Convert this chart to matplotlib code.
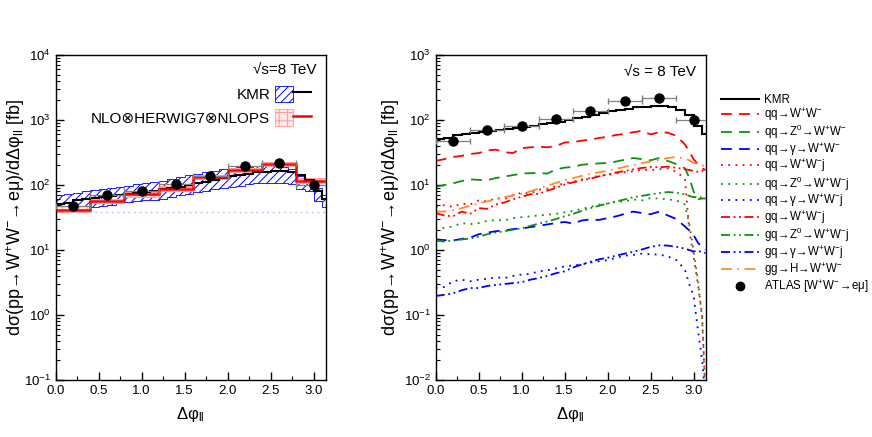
import numpy as np
import matplotlib
matplotlib.use('Agg')
import matplotlib.pyplot as plt
from matplotlib.patches import Patch
from matplotlib.lines import Line2D
from matplotlib.legend_handler import HandlerTuple
from matplotlib.ticker import MultipleLocator, LogLocator

plt.rcParams['font.family'] = ['Liberation Sans', 'DejaVu Sans']
plt.rcParams['mathtext.default'] = 'regular'
plt.rcParams['hatch.linewidth'] = 0.7

# KMR histogram (0.1 wide bins, last bin ends at pi)
kmr_edges = [0.0, 0.1, 0.2, 0.3, 0.4, 0.5, 0.6, 0.7, 0.8, 0.9, 1.0, 1.1, 1.2, 1.3, 1.4, 1.5,
             1.6, 1.7, 1.8, 1.9, 2.0, 2.1, 2.2, 2.3, 2.4, 2.5, 2.6, 2.7, 2.8, 2.9, 3.0, 3.1, np.pi]
kmr = [51, 52, 58, 61, 64, 66, 68, 69, 72, 76, 79, 82, 86, 90, 94, 99,
       106, 113, 120, 128, 136, 143, 150, 156, 161, 165, 166, 160, 145, 118, 82, 62]
kmr_lo = [39, 40, 42, 44, 46, 48, 50, 52, 54, 56, 58, 59, 62, 66, 70, 74,
          78, 82, 86, 90, 94, 98, 102, 106, 108, 109, 108, 102, 86, 80, 56, 46]
kmr_hi = [70, 72, 76, 80, 84, 88, 91, 94, 98, 102, 106, 110, 114, 122, 132, 142,
          150, 158, 166, 174, 181, 187, 192, 196, 198, 196, 190, 175, 140, 120, 90, 70]
band_floor = 38

# NLO x HERWIG7 x NLOPS (0.4 wide bins)
nlo_edges = [0.0, 0.4, 0.8, 1.2, 1.6, 2.0, 2.4, 2.8, np.pi]
nlo = [42, 57, 72, 88, 133, 170, 209, 116]
nlo_lo = [38, 52, 66, 81, 122, 156, 193, 107]
nlo_hi = [47, 62, 78, 96, 145, 184, 226, 126]

# ATLAS data
atlas_x = [0.2, 0.6, 1.0, 1.4, 1.8, 2.2, 2.6, 3.0]
atlas_y = [47, 70, 82, 103, 139, 194, 218, 99]
atlas_yerr = [4, 6, 7, 9, 12, 16, 18, 9]
atlas_xerr = 0.2

# individual contributions
xs = [0.0, 0.1, 0.2, 0.3, 0.4, 0.5, 0.6, 0.7, 0.8, 0.9, 1.0, 1.1, 1.2, 1.3, 1.4, 1.5, 1.6, 1.7,
      1.8, 1.9, 2.0, 2.1, 2.2, 2.3, 2.4, 2.5, 2.6, 2.7, 2.8, 2.9, 2.95, 3.0, 3.05, 3.1, 3.14]
qq_ww = [23.5, 25, 27, 28, 30, 31, 34, 35, 32, 31, 37, 38, 39, 38, 40, 45, 46, 48,
         50, 53, 55, 59, 61, 65, 68, 60, 65, 64, 57, 42, 33, 25, 21, 18, 17]
qq_z_ww = [9.4, 10, 10.6, 11.5, 12.2, 12, 11.9, 12.8, 13.5, 14.2, 15, 15.2, 15.3, 15, 17.4, 18.5, 19, 20.5,
           21, 21.5, 21.8, 23, 24.5, 26, 25, 24, 26, 23.5, 21, 18, 13, 8, 6, 6.2, 6.2]
qq_g_ww = [1.46, 1.42, 1.40, 1.48, 1.55, 1.75, 1.85, 1.95, 2.0, 2.1, 2.15, 2.25, 2.35, 2.48, 2.6, 2.7, 2.55, 2.85,
           2.95, 2.9, 3.1, 3.3, 3.6, 3.9, 3.7, 3.55, 3.9, 3.4, 3.0, 2.3, 2.0, 1.7, 1.3, 1.1, 1.0]
qq_wwj = [4.6, 4.9, 4.6, 5.2, 5.0, 5.8, 5.6, 6.3, 6.1, 7.0, 7.6, 7.4, 8.5, 8.8, 9.6, 10.8, 11.2, 12.2,
          12.8, 13.9, 14.2, 15.0, 15.8, 16.2, 17.3, 16.8, 17.5, 18.0, 16.0, 12.5, 2.0, 0.8, 0.3, 0.1, 0.005]
qq_z_wwj = [2.0, 2.2, 2.3, 2.6, 2.5, 2.6, 2.8, 2.9, 2.85, 3.1, 3.2, 3.3, 3.4, 3.5, 3.6, 3.8, 4.0, 4.3,
            4.6, 5.0, 5.2, 5.5, 5.6, 6.0, 5.8, 6.3, 6.2, 6.0, 5.8, 5.0, 2.5, 1.0, 0.35, 0.09, 0.005]
qq_g_wwj = [0.26, 0.27, 0.33, 0.35, 0.33, 0.35, 0.36, 0.38, 0.37, 0.40, 0.42, 0.43, 0.47, 0.49, 0.52, 0.56, 0.58, 0.6,
            0.64, 0.67, 0.70, 0.76, 0.82, 0.84, 0.88, 0.86, 0.85, 0.80, 0.70, 0.5, 0.3, 0.2, 0.06, 0.02, 0.005]
gq_wwj = [3.7, 3.4, 3.3, 3.9, 3.6, 4.4, 4.3, 5.0, 5.4, 6.0, 6.6, 7.2, 7.3, 8.2, 9.0, 10.2, 11.0, 11.8,
          12.5, 13.6, 14.5, 15.6, 16.4, 17.4, 18.3, 19.0, 18.7, 19.2, 18.4, 17.5, 17.0, 16.5, 16.0, 16.5, 16.8]
gq_z_wwj = [1.39, 1.35, 1.4, 1.45, 1.5, 1.6, 1.75, 1.85, 1.95, 2.05, 2.15, 2.35, 2.55, 2.75, 3.0, 3.3, 3.6, 4.0,
            4.4, 4.8, 5.2, 5.6, 6.0, 6.5, 6.8, 7.2, 7.5, 7.8, 7.6, 7.2, 6.8, 6.5, 6.6, 6.4, 6.3]
gq_g_wwj = [0.196, 0.205, 0.215, 0.24, 0.26, 0.26, 0.28, 0.29, 0.3, 0.31, 0.32, 0.35, 0.37, 0.40, 0.44, 0.47, 0.54, 0.60,
            0.66, 0.72, 0.76, 0.82, 0.88, 0.94, 1.02, 1.12, 1.18, 1.17, 1.12, 1.05, 1.0, 0.95, 0.98, 0.92, 0.9]
gg_h_ww = [3.9, 3.9, 4.1, 4.4, 4.8, 5.2, 5.6, 6.0, 6.5, 6.9, 7.3, 8.0, 8.8, 9.7, 10.8, 11.9, 12.8, 13.8,
           14.8, 15.7, 16.6, 17.8, 19.0, 20.3, 21.7, 23.0, 24.5, 26.0, 27.0, 25.5, 24.0, 22.0, 21.0, 20.0, 19.5]

red, green, blue, orange = '#ff0000', '#109010', '#0000ff', '#ff8c2a'
dashed = (0, (6, 4))
dotted = (0, (1, 3))
dashdotdot = (0, (5, 2, 1, 2, 1, 2))
dashdot = (0, (6, 3, 1, 3))

ar = r'$\!\rightarrow\!$'
ww = 'W$^{+}$W$^{-}$'
contribs = [
    (qq_ww, red, dashed, 'qq' + ar + ww),
    (qq_z_ww, green, dashed, 'qq' + ar + 'Z$^{0}$' + ar + ww),
    (qq_g_ww, blue, dashed, 'qq' + ar + 'γ' + ar + ww),
    (qq_wwj, red, dotted, 'qq' + ar + ww + 'j'),
    (qq_z_wwj, green, dotted, 'qq' + ar + 'Z$^{0}$' + ar + ww + 'j'),
    (qq_g_wwj, blue, dotted, 'qq' + ar + 'γ' + ar + ww + 'j'),
    (gq_wwj, red, dashdotdot, 'gq' + ar + ww + 'j'),
    (gq_z_wwj, green, dashdotdot, 'gq' + ar + 'Z$^{0}$' + ar + ww + 'j'),
    (gq_g_wwj, blue, dashdotdot, 'gq' + ar + 'γ' + ar + ww + 'j'),
    (gg_h_ww, orange, dashdot, 'gg' + ar + 'H' + ar + ww),
]

fig = plt.figure(figsize=(8.72, 4.37), dpi=100)
ax1 = fig.add_axes([0.0639, 0.1304, 0.3096, 0.7437])
ax2 = fig.add_axes([0.4997, 0.1304, 0.3096, 0.7437])

ylab = 'dσ(pp' + ar + ww + ar + 'eμ)/dΔφ$_{ll}$ [fb]'


def draw_atlas(ax):
    ax.errorbar(atlas_x, atlas_y, xerr=atlas_xerr, fmt='none', ecolor='#808080',
                elinewidth=0.9, capsize=2.5, zorder=4)
    ax.errorbar(atlas_x, atlas_y, yerr=atlas_yerr, fmt='o', color='black', ecolor='#808080',
                elinewidth=0.9, capsize=0, markersize=6.5, zorder=5)


def style_axis(ax, ylo, yhi, labx):
    ax.set_yscale('log')
    ax.set_xlim(0, np.pi)
    ax.set_ylim(ylo, yhi)
    ax.xaxis.set_major_locator(MultipleLocator(0.5))
    ax.xaxis.set_minor_locator(MultipleLocator(0.25))
    ax.yaxis.set_major_locator(LogLocator(base=10, numticks=10))
    ax.yaxis.set_minor_locator(LogLocator(base=10, subs=np.arange(2, 10), numticks=20))
    ax.tick_params(which='both', direction='in', top=False, right=False, labelsize=9.5)
    ax.tick_params(which='major', length=6, width=1)
    ax.tick_params(which='minor', length=3, width=0.8)
    ax.xaxis.set_major_formatter(plt.FuncFormatter(lambda v, p: '%.1f' % v))
    for s in ax.spines.values():
        s.set_linewidth(1.0)
    ax.set_xlabel('Δφ$_{ll}$', fontsize=12, labelpad=6)
    ax.set_ylabel(ylab, fontsize=13)
    ax.yaxis.set_label_coords(labx, 0.5)


# left panel
ax1.axhline(band_floor, color='#aab0ff', linestyle=(0, (1, 3)), linewidth=1.0, zorder=1)
ax1.stairs(kmr_hi, kmr_edges, baseline=kmr_lo, fill=True, facecolor='none',
           edgecolor=blue, hatch='////', linewidth=0.6, zorder=2)
ax1.stairs(nlo_hi, nlo_edges, baseline=nlo_lo, fill=True, facecolor='#ffe8e8',
           edgecolor='#ff9a9a', hatch='++', linewidth=0.6, zorder=2)
ax1.stairs(kmr, kmr_edges, baseline=None, color='black', linewidth=1.5, zorder=3)
ax1.stairs(nlo, nlo_edges, baseline=None, color=red, linewidth=1.8, zorder=3)
draw_atlas(ax1)
style_axis(ax1, 1e-1, 1e4, -0.105)
ax1.text(0.965, 0.955, '√s=8 TeV', transform=ax1.transAxes, ha='right', va='center', fontsize=11)

h_kmr = (Patch(facecolor='none', edgecolor=blue, hatch='////', linewidth=0.6),
         Line2D([], [], color='black', linewidth=1.5))
h_nlo = (Patch(facecolor='#ffe8e8', edgecolor='#ff9a9a', hatch='++', linewidth=0.6),
         Line2D([], [], color=red, linewidth=1.8))
ax1.legend([h_kmr, h_nlo], ['KMR', 'NLO⊗HERWIG7⊗NLOPS'],
           handler_map={tuple: HandlerTuple(ndivide=None, pad=0)},
           loc='upper right', bbox_to_anchor=(0.97, 0.925), frameon=False, markerfirst=False,
           fontsize=11, handlelength=2.4, handleheight=1.3, handletextpad=0.3,
           labelspacing=0.45, borderaxespad=0)

# right panel
handles = []
labels = []
l, = ax2.plot([], [], color='black', linewidth=1.5)
ax2.stairs(kmr, kmr_edges, baseline=None, color='black', linewidth=1.5, zorder=3)
handles.append(l)
labels.append('KMR')
for vals, col, ls, lab in contribs:
    l, = ax2.plot(xs, vals, color=col, linestyle=ls, linewidth=1.3, zorder=2)
    handles.append(l)
    labels.append(lab)
draw_atlas(ax2)
handles.append(Line2D([], [], marker='o', color='black', linestyle='none', markersize=6))
labels.append('ATLAS [' + ww + ar + 'eμ]')
style_axis(ax2, 1e-2, 1e3, -0.125)
ax2.text(0.965, 0.948, '√s = 8 TeV', transform=ax2.transAxes, ha='right', va='center', fontsize=11)
ax2.legend(handles, labels, loc='upper left', bbox_to_anchor=(1.04, 0.895), frameon=False,
           fontsize=8.3, handlelength=3.3, handletextpad=0.4, labelspacing=0.0, borderaxespad=0)

fig.savefig('out.png', dpi=100)
